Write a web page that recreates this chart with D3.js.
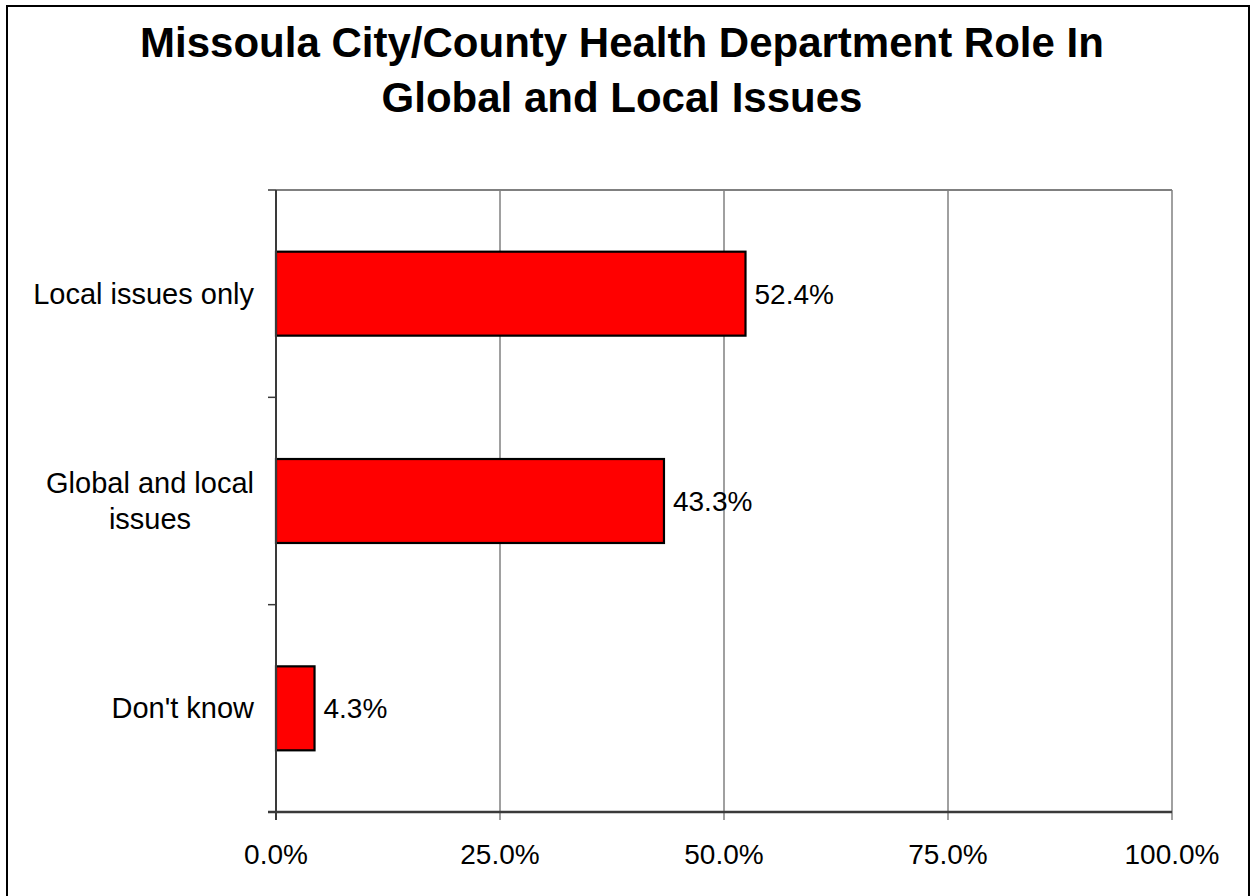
<!doctype html>
<html>
    <head>
        <meta charset="utf-8" />
        <title>Missoula City/County Health Department Role</title>
        <script src="https://cdn.jsdelivr.net/npm/d3@7"></script>
        <style type="text/css">
            html, body { margin: 0; padding: 0; background: #fff; overflow: hidden; }
            svg { display: block; font-family: "Liberation Sans", Arial, sans-serif; }
        </style>
    </head>
    <body>
        <script>
            // data
            const categories = ["Local issues only", "Global and local issues", "Don't know"];
            const labelLines = [["Local issues only"], ["Global and local", "issues"], ["Don't know"]];
            const values = [52.4, 43.3, 4.3];
            const xTicks = [0, 25, 50, 75, 100];
            const titleLines = ["Missoula City/County Health Department Role In", "Global and Local Issues"];

            const width = 1253, height = 896;
            const plot = { left: 276, right: 1172, top: 190, bottom: 812 };

            const svg = d3.select("body").append("svg")
                .attr("width", width)
                .attr("height", height);

            // outer frame (bottom edge runs off the picture)
            svg.append("rect")
                .attr("x", 7).attr("y", 6)
                .attr("width", 1242).attr("height", 900)
                .attr("fill", "#fff")
                .attr("stroke", "#000")
                .attr("stroke-width", 2);

            // title
            svg.append("g")
                .selectAll("text")
                .data(titleLines)
                .join("text")
                .attr("x", 622)
                .attr("y", (d, i) => 57 + i * 54.5)
                .attr("text-anchor", "middle")
                .attr("font-size", 42)
                .attr("font-weight", "bold")
                .text(d => d);

            const x = d3.scaleLinear().domain([0, 100]).range([plot.left, plot.right]);
            const y = d3.scaleBand()
                .domain(categories)
                .range([plot.top, plot.bottom])
                .paddingInner(0.595)
                .paddingOuter(0.2975);

            // gridlines
            svg.append("g")
                .selectAll("line")
                .data(xTicks.slice(1))
                .join("line")
                .attr("x1", d => x(d)).attr("x2", d => x(d))
                .attr("y1", plot.top).attr("y2", plot.bottom + 8)
                .attr("stroke", "#808080")
                .attr("stroke-width", 1.5);

            // top border of plot area
            svg.append("line")
                .attr("x1", plot.left).attr("x2", plot.right)
                .attr("y1", plot.top).attr("y2", plot.top)
                .attr("stroke", "#808080")
                .attr("stroke-width", 2);

            // bars
            svg.append("g")
                .selectAll("rect")
                .data(values)
                .join("rect")
                .attr("x", x(0))
                .attr("y", (d, i) => y(categories[i]))
                .attr("width", d => x(d) - x(0))
                .attr("height", y.bandwidth())
                .attr("fill", "#ff0000")
                .attr("stroke", "#000")
                .attr("stroke-width", 2.2);

            // value labels
            svg.append("g")
                .selectAll("text")
                .data(values)
                .join("text")
                .attr("x", d => x(d) + 9)
                .attr("y", (d, i) => y(categories[i]) + y.bandwidth() / 2 + 10)
                .attr("font-size", 28)
                .text(d => d3.format(".1f")(d) + "%");

            // axes lines
            const axisColor = "#3a3a3a";
            svg.append("line")
                .attr("x1", plot.left).attr("x2", plot.left)
                .attr("y1", plot.top).attr("y2", plot.bottom + 8)
                .attr("stroke", axisColor).attr("stroke-width", 2);
            svg.append("line")
                .attr("x1", plot.left - 8).attr("x2", plot.right)
                .attr("y1", plot.bottom).attr("y2", plot.bottom)
                .attr("stroke", axisColor).attr("stroke-width", 2.5);

            // y ticks at category boundaries
            const step = y.step();
            svg.append("g")
                .selectAll("line")
                .data(d3.range(categories.length + 1))
                .join("line")
                .attr("x1", plot.left - 8).attr("x2", plot.left)
                .attr("y1", i => plot.top + i * step)
                .attr("y2", i => plot.top + i * step)
                .attr("stroke", axisColor).attr("stroke-width", 1.5);

            // x tick labels
            svg.append("g")
                .selectAll("text")
                .data(xTicks)
                .join("text")
                .attr("x", d => x(d))
                .attr("y", 864)
                .attr("text-anchor", "middle")
                .attr("font-size", 28)
                .text(d => d3.format(".1f")(d) + "%");

            // category labels, each block centred, right edge near the axis
            const catG = svg.append("g");
            labelLines.forEach((lines, i) => {
                const g = catG.append("g");
                const cy = y(categories[i]) + y.bandwidth() / 2;
                const lh = 36;
                const t = g.selectAll("text")
                    .data(lines)
                    .join("text")
                    .attr("y", (d, j) => cy + 10 + (j - (lines.length - 1) / 2) * lh)
                    .attr("text-anchor", "middle")
                    .attr("font-size", 29)
                    .text(d => d);
                const w = d3.max(t.nodes(), n => n.getComputedTextLength());
                t.attr("x", 254 - w / 2);
            });
        </script>
    </body>
</html>
